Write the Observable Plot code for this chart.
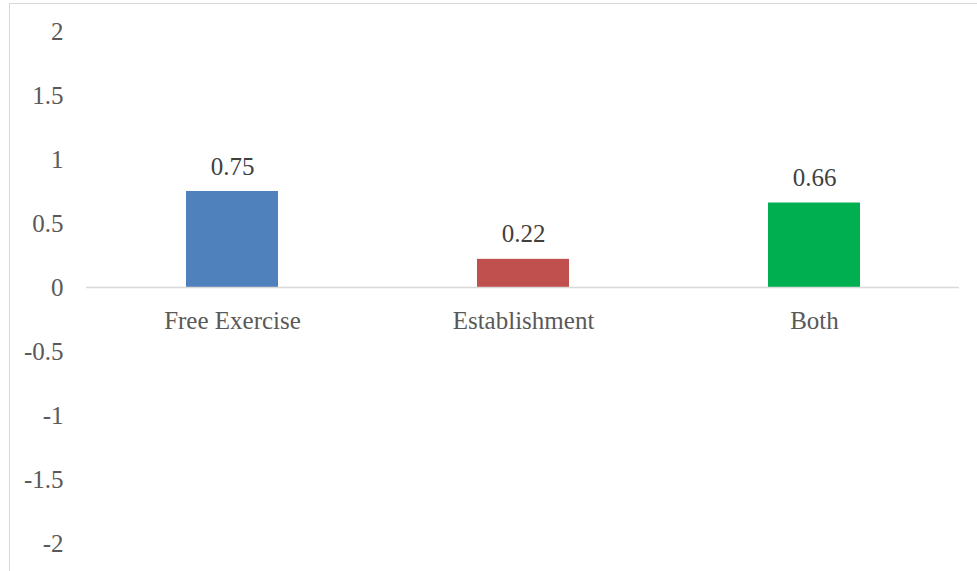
<!DOCTYPE html>
<html>
<head>
<meta charset="utf-8">
<script src="https://cdn.jsdelivr.net/npm/d3@7"></script>
<script src="https://cdn.jsdelivr.net/npm/@observablehq/plot@0.6"></script>
<style>
  html, body { margin: 0; padding: 0; background: #fff; overflow: hidden; }
  #wrap { position: relative; width: 977px; height: 571px; }
  #border { position: absolute; left: 9px; top: 3px; width: 1000px; height: 600px; border: 1.5px solid #d9d9d9; box-sizing: border-box; }
  #chart { position: absolute; left: 0; top: 0; }
</style>
</head>
<body>
<div id="wrap"><div id="border"></div><div id="chart"></div></div>
<script>
const categories = ["Free Exercise", "Establishment", "Both"];
const values = [0.75, 0.22, 0.66];
const colors = ["#4f81bd", "#c0504d", "#00b050"];
const yTicks = [-2, -1.5, -1, -0.5, 0, 0.5, 1, 1.5, 2];

const data = categories.map((c, i) => ({category: c, value: values[i], color: colors[i]}));

const chart = Plot.plot({
  width: 977,
  height: 571,
  marginLeft: 86,
  marginRight: 18,
  marginTop: 31,
  marginBottom: 28,
  style: {fontFamily: "'Liberation Serif', serif", fontSize: "25px", background: "transparent"},
  x: {domain: categories, paddingInner: 0.684, paddingOuter: 0.342, axis: null},
  y: {domain: [-2, 2], ticks: yTicks, label: null},
  marks: [
    Plot.axisY({ticks: yTicks, tickSize: 0, tickPadding: 23, tickFormat: d => String(d), fill: "#595959", fontSize: 25, label: null}),
    Plot.barY(data, {x: "category", y: "value", fill: "color"}),
    Plot.ruleY([0], {stroke: "#d9d9d9", strokeWidth: 1.5}),
    Plot.text(data, {x: "category", y: "value", text: d => d.value.toFixed(2), dy: -25, fill: "#404040", fontSize: 25}),
    Plot.text(data, {x: "category", y: () => 0, text: "category", dy: 33, fill: "#595959", fontSize: 25})
  ]
});
document.getElementById("chart").appendChild(chart);
</script>
</body>
</html>
